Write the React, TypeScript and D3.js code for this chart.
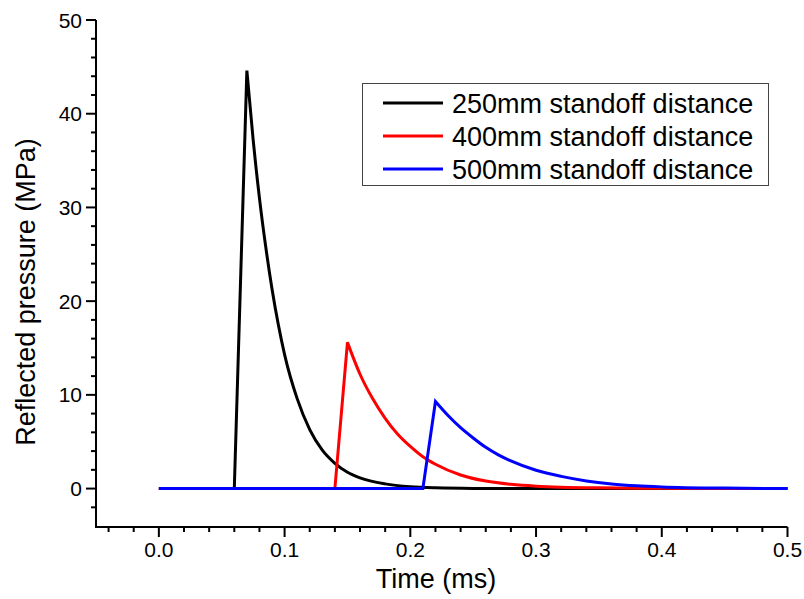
import React from 'react';
import * as d3 from 'd3';

// time (ms) and reflected pressure (MPa)
const time250 = [0, 0.06, 0.07, 0.075, 0.08, 0.085, 0.09, 0.095, 0.1, 0.11, 0.12, 0.13, 0.14, 0.15, 0.16, 0.18, 0.2, 0.22, 0.25, 0.3, 0.5];
const press250 = [0, 0, 44.6, 37.2, 31, 25.8, 21.3, 17.5, 14.3, 9.6, 6.3, 4.1, 2.7, 1.75, 1.15, 0.5, 0.2, 0.08, 0.02, 0, 0];

const time400 = [0, 0.14, 0.15, 0.16, 0.17, 0.18, 0.19, 0.2, 0.21, 0.22, 0.24, 0.26, 0.28, 0.3, 0.35, 0.4, 0.45, 0.5];
const press400 = [0, 0, 15.6, 12.2, 9.6, 7.5, 5.8, 4.5, 3.4, 2.6, 1.45, 0.8, 0.45, 0.26, 0.08, 0.03, 0.01, 0];

const time500 = [0, 0.21, 0.22, 0.23, 0.24, 0.25, 0.26, 0.27, 0.28, 0.3, 0.32, 0.34, 0.36, 0.38, 0.4, 0.45, 0.5];
const press500 = [0, 0, 9.3, 7.8, 6.5, 5.4, 4.4, 3.6, 2.95, 1.95, 1.3, 0.82, 0.5, 0.3, 0.18, 0.05, 0.01];

const seriesNames = ['250mm standoff distance', '400mm standoff distance', '500mm standoff distance'];
const seriesColors = ['#000000', '#ff0000', '#0000ff'];

const xTicks = [0, 0.1, 0.2, 0.3, 0.4, 0.5];
const yTicks = [0, 10, 20, 30, 40, 50];

const FONT = '"Liberation Sans", Arial, sans-serif';

export default function App() {
  const left = 96, right = 787.5, top = 20, bottom = 527;

  const x = d3.scaleLinear().domain([-0.05, 0.5]).range([left, right]);
  const y = d3.scaleLinear().domain([-4.1, 50]).range([bottom, top]);

  const rise = d3.line<[number, number]>().x((d) => x(d[0])).y((d) => y(d[1]));
  const decay = d3
    .line<[number, number]>()
    .x((d) => x(d[0]))
    .y((d) => y(d[1]))
    .curve(d3.curveMonotoneX);

  const series = [
    d3.zip(time250, press250),
    d3.zip(time400, press400),
    d3.zip(time500, press500),
  ] as [number, number][][];

  // straight rise up to the peak, smooth decay after it, joined into one path
  const pathFor = (s: [number, number][]) => {
    const peak = d3.maxIndex(s, (d) => d[1]);
    const a = rise(s.slice(0, peak + 1)) || '';
    const b = (decay(s.slice(peak)) || '').replace(/^M/, 'L');
    return a + b;
  };

  const xMinor = d3.range(-0.04, 0.5, 0.02).filter((v) => Math.abs(v * 10 - Math.round(v * 10)) > 1e-6);
  const yMinor = d3.range(-2, 50, 2).filter((v) => v % 10 !== 0);

  return (
    <svg width={804} height={599} style={{ position: 'absolute', left: 0, top: 0 }} fontFamily={FONT}>
      <rect width={804} height={599} fill="#fff" />

      {/* data lines */}
      {series.map((s, i) => (
        <path key={i} d={pathFor(s)} fill="none" stroke={seriesColors[i]} strokeWidth={3} strokeLinejoin="miter" />
      ))}

      {/* x axis */}
      <line x1={left - 1} x2={right} y1={bottom} y2={bottom} stroke="#000" strokeWidth={2} />
      {xTicks.map((t) => (
        <g key={t}>
          <line x1={x(t)} x2={x(t)} y1={bottom} y2={bottom + 10} stroke="#000" strokeWidth={2} />
          <text x={x(t)} y={557} textAnchor="middle" fontSize={21}>{t.toFixed(1)}</text>
        </g>
      ))}
      {xMinor.map((t) => (
        <line key={t} x1={x(t)} x2={x(t)} y1={bottom} y2={bottom + 5} stroke="#000" strokeWidth={2} />
      ))}
      <text x={436} y={588} textAnchor="middle" fontSize={27}>Time (ms)</text>

      {/* y axis */}
      <line x1={left} x2={left} y1={top} y2={bottom + 1} stroke="#000" strokeWidth={2} />
      {yTicks.map((t) => (
        <g key={t}>
          <line x1={left - 10} x2={left} y1={y(t)} y2={y(t)} stroke="#000" strokeWidth={2} />
          <text x={82} y={y(t) + 7.5} textAnchor="end" fontSize={21}>{t}</text>
        </g>
      ))}
      {yMinor.map((t) => (
        <line key={t} x1={left - 5} x2={left} y1={y(t)} y2={y(t)} stroke="#000" strokeWidth={2} />
      ))}
      <text transform={`translate(35,292) rotate(-90)`} textAnchor="middle" fontSize={27}>
        Reflected pressure (MPa)
      </text>

      {/* legend */}
      <rect x={362.5} y={83.5} width={406} height={102} fill="#fff" stroke="#444" strokeWidth={1} />
      {seriesNames.map((name, i) => (
        <g key={name} transform={`translate(0,${103 + i * 33})`}>
          <line x1={383} x2={443} y1={0} y2={0} stroke={seriesColors[i]} strokeWidth={3} />
          <text x={452} y={9.5} fontSize={27}>{name}</text>
        </g>
      ))}
    </svg>
  );
}
